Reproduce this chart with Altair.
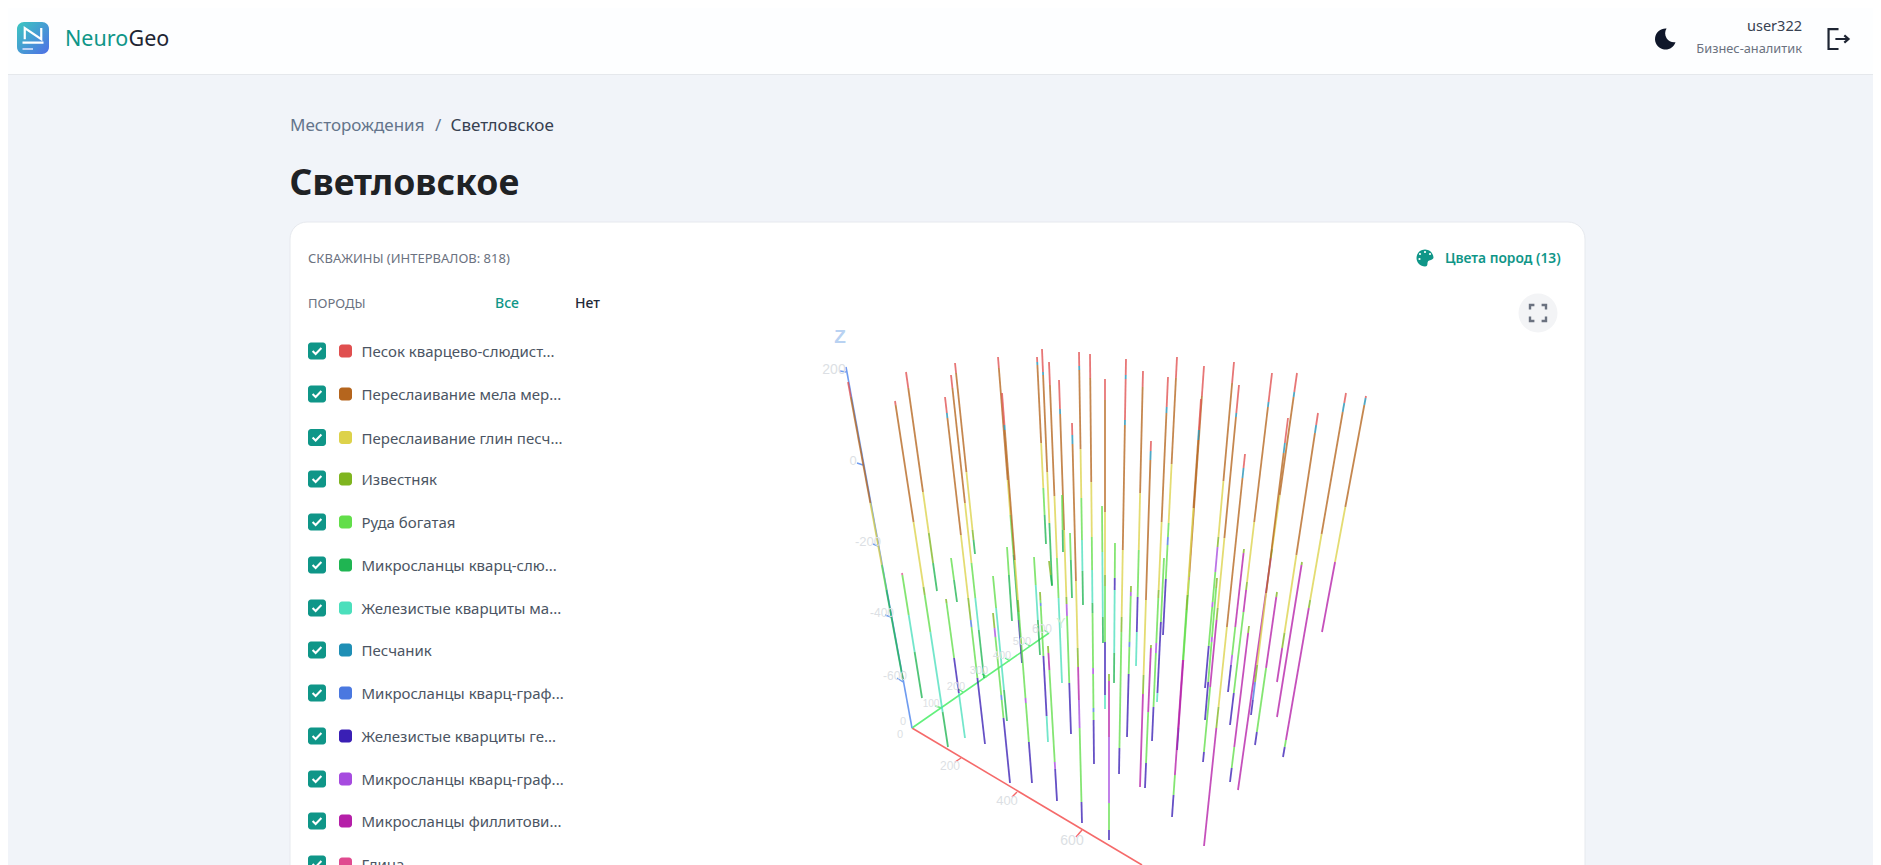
import altair as alt
import pandas as pd

# ---------- rock legend ----------
ROCK_CODES = list("RBYLGDTSCNPMK")
ROCK_COLORS = ["#e04f4f", "#b5651d", "#ddd24a", "#7fb51f", "#62de4a", "#1fb552", "#4bdfbc",
               "#1f8fb5", "#4a78e0", "#3a1fb5", "#a64bdf", "#b51fa8", "#e04a8f"]
ROCK_LABELS = ["Песок кварцево-слюдист...", "Переслаивание мела мер...", "Переслаивание глин песч...",
               "Известняк", "Руда богатая", "Микросланцы кварц-слю...", "Железистые кварциты ма...",
               "Песчаник", "Микросланцы кварц-граф...", "Железистые кварциты ге...",
               "Микросланцы кварц-граф...", "Микросланцы филлитови...", "Глина"]
LEGEND_Y = [351, 394, 437.5, 479, 522, 565, 608, 650, 693, 736, 779, 821, 864]

# ---------- wells, as read from the projected 3D view ----------
WELL_TOP_X = [848, 895, 906, 902, 945, 951, 955, 951, 946, 993, 993, 998, 1002, 1007, 1034, 1040, 1048, 1037, 1042,
              1049, 1049, 1059, 1062, 1072, 1070, 1079, 1090, 1105, 1102, 1126, 1115, 1131, 1143, 1151, 1151, 1168,
              1177, 1164, 1204, 1201, 1234, 1217, 1239, 1245, 1272, 1244, 1249, 1297, 1288, 1277, 1318, 1302, 1366,
              1346, 1109]
WELL_TOP_Y = [382, 401, 372, 573, 397, 375, 363, 558, 599, 576, 613, 357, 393, 547, 557, 592, 646, 357, 349,
              362, 561, 380, 495, 423, 533, 352, 354, 379, 506, 359, 543, 586, 371, 441, 645, 377,
              357, 558, 366, 399, 362, 578, 385, 454, 373, 549, 626, 373, 418, 592, 413, 562, 396,
              393, 674]
WELL_BOTTOM_X = [903, 948, 937, 922, 985, 984, 975, 957, 965, 1007, 1010, 1022, 1032, 1012, 1040, 1048, 1057, 1046, 1052,
                 1062, 1052, 1071, 1063, 1082, 1072, 1083, 1094, 1105, 1103, 1119, 1114, 1127, 1136, 1140, 1145, 1152,
                 1163, 1157, 1177, 1172, 1205, 1205, 1203, 1204, 1230, 1228, 1230, 1238, 1251, 1255, 1277, 1277, 1322,
                 1283, 1109]
WELL_ENDS = [
    [397, 503, 565, 590, 680], [405, 522, 587, 595, 632, 712, 747], [388, 492, 533, 563, 591], [575, 615, 652, 698],
    [413, 418, 535, 598, 620, 627, 678, 744], [388, 503, 563, 598, 630, 678], [373, 472, 530, 540, 554], [580, 602],
    [603, 658, 693, 738], [608, 690, 721], [628, 637, 695, 700, 718, 783], [368, 480, 515, 555, 620, 663],
    [425, 430, 560, 600, 612, 698, 703, 742, 783], [575, 621], [585, 620, 655], [600, 603, 606, 656, 716, 742],
    [653, 670, 762, 769, 801], [362, 365, 443, 488, 515, 544], [372, 375, 472, 523, 585],
    [385, 496, 558, 598, 683], [575, 586], [409, 414, 530, 597, 604, 616, 683, 734], [530, 552],
    [435, 444, 581, 648, 667, 700, 728, 802, 823], [560, 598], [366, 370, 449, 498, 540, 571, 605],
    [378, 482, 537, 570, 603, 613, 668, 674, 708, 712, 720, 764], [400, 512, 575, 586, 642, 695, 709], [552, 617, 643],
    [375, 379, 420, 425, 550, 617, 632, 748, 774], [578, 590, 653, 683], [592, 596, 642, 647, 674, 737],
    [387, 493, 550, 597, 632, 666], [451, 460, 600, 675, 694, 787], [648, 712, 763, 788],
    [407, 413, 522, 590, 598, 643, 653, 707, 741], [378, 464, 523, 537, 545, 579, 635], [622, 693, 702],
    [396, 572, 577, 580, 660, 728, 750], [430, 440, 508, 595, 610, 660, 775, 795, 817],
    [383, 481, 537, 547, 572, 602, 607, 646, 688], [588, 637, 642, 682, 720], [413, 417, 538, 608, 620, 687, 752, 762],
    [468, 478, 627, 707, 728, 846], [402, 407, 522, 582, 590, 612, 693, 725], [553, 627, 655, 665, 692],
    [633, 747, 768, 782], [392, 397, 495, 549, 558, 790], [443, 453, 593, 665, 682, 700, 715], [597, 668, 732, 745],
    [425, 433, 555, 633, 648, 682], [565, 717], [398, 405, 507, 562, 632], [403, 412, 534, 600, 608, 740, 747, 757],
    [681, 737, 803, 830, 840],
]
WELL_ROCKS = ["RBYGD", "RBYLGTD", "RBYLD", "KGTD", "RSBYLCGN", "RBYGTD", "RBYLD", "GD", "LGNT", "GTD", "LPGCGN",
              "RBYGDN", "RSBYLGPGN", "GD", "GTD", "LGCGNT", "LMGPN", "RSBYGD", "RSBYD", "RBYGT", "LD", "RSBYLPGN",
              "GD", "RSBYLMPGN", "GD", "RSBYGTD", "RBYGTDGPGCGN", "RBYLGNT", "GTD", "RSRSBYLGN", "GNTD", "LPGCGN",
              "RBYGNT", "RSBYLM", "LMGN", "RSBYLGPGN", "RBYGCGN", "GNT", "RBLPGMN", "RSBYLGMGN", "RBYLPGPGN",
              "LGPGN", "RSBYLMGN", "RSBYLM", "RSBYLMGN", "LMGPN", "LMGN", "RSBYLM", "RSBYLCN", "LMGN", "RSBYLM",
              "LM", "RSBYM", "RSBYLMGN", "LMPGN"]

# ---------- 3D axes ----------
AXIS_X = [912, 1142]
AXIS_Y = [728, 865]
AXIS_GREEN_X = [912, 1049]
AXIS_GREEN_Y = [728, 633]
AXIS_BLUE_X = [912, 846]
AXIS_BLUE_Y = [728, 367]
TICK_LABELS = ["200", "0", "-200", "-400", "-600", "0", "100", "200", "300", "400", "500", "600", "0", "200", "400", "600"]
TICK_LABEL_X = [834, 853, 868, 882, 895, 903, 931, 956, 979, 1002, 1022, 1042, 900, 950, 1007, 1072]
TICK_LABEL_Y = [370, 461, 542, 613, 676, 722, 704, 687, 671, 656, 642, 629, 735, 766, 801, 841]
TICK_LABEL_SIZE = [14, 13, 13, 12, 12, 11, 10, 11, 11, 11, 11, 12, 11, 12, 13, 14]
TICK_COLOR = ["#6f9cf0"] * 5 + ["#62f07c"] * 6 + ["#f56a6a"] * 3
TICK_X1 = [840, 857, 873, 885, 897, 935, 958, 982, 1005, 1025, 1044, 955, 1012, 1076]
TICK_Y1 = [371, 463, 544, 615, 678, 706, 689, 674, 658, 643, 630, 762, 797, 837]
TICK_X2 = [846, 863, 878, 891, 903, 942, 963, 987, 1010, 1030, 1049, 961, 1017, 1082]
TICK_Y2 = [372, 465, 546, 617, 682, 708, 692, 677, 661, 646, 633, 758, 792, 830]

X_SCALE = alt.Scale(domain=[8, 1873], nice=False, zero=False)
Y_SCALE = alt.Scale(domain=[865, 8], nice=False, zero=False)
FONT = "Noto Sans"


def enc(**kw):
    base = dict(x=alt.X("x:Q", scale=X_SCALE, axis=None), y=alt.Y("y:Q", scale=Y_SCALE, axis=None))
    base.update(kw)
    return base


def box(x, x2, y, y2, color, radius=0, stroke=None):
    d = pd.DataFrame({"x": [x], "x2": [x2], "y": [y], "y2": [y2]})
    opts = dict(color=color, cornerRadius=radius)
    if stroke:
        opts.update(stroke=stroke, strokeWidth=1)
    return alt.Chart(d).mark_rect(**opts).encode(x2="x2:Q", y2="y2:Q", **enc())


def txt(text, x, y, size, color, align="left", weight=400, font=FONT):
    d = pd.DataFrame({"x": [x], "y": [y], "t": [text]})
    return alt.Chart(d).mark_text(align=align, baseline="middle", fontSize=size, color=color,
                                  fontWeight=weight, font=font).encode(text="t:N", **enc())


def icon(path, x, y, w, color, filled=False, sw=2.0):
    d = pd.DataFrame({"x": [x], "y": [y]})
    opts = dict(shape=path, size=w * w, opacity=1)
    if filled:
        opts.update(filled=True, fill=color, strokeWidth=0)
    else:
        opts.update(filled=False, stroke=color, strokeWidth=sw)
    return alt.Chart(d).mark_point(**opts).encode(**enc())


def dot(x, y, size, color):
    d = pd.DataFrame({"x": [x], "y": [y]})
    return alt.Chart(d).mark_point(shape="circle", filled=True, size=size, color=color, opacity=1).encode(**enc())


# ---------- well segments ----------
rows = []
for i, ends in enumerate(WELL_ENDS):
    tx, ty, bx = WELL_TOP_X[i], WELL_TOP_Y[i], WELL_BOTTOM_X[i]
    by = ends[-1]
    prev = ty
    for e, rock in zip(ends, WELL_ROCKS[i]):
        rows.append({
            "x": tx + (bx - tx) * (prev - ty) / (by - ty),
            "x2": tx + (bx - tx) * (e - ty) / (by - ty),
            "y": prev, "y2": e, "rock": rock, "order": len(rows),
        })
        prev = e
segments = pd.DataFrame(rows)
wells = alt.Chart(segments).mark_rule(strokeWidth=1.8, opacity=0.78).encode(
    x2="x2:Q", y2="y2:Q",
    color=alt.Color("rock:N", scale=alt.Scale(domain=ROCK_CODES, range=ROCK_COLORS), legend=None),
    **enc())


def axis_line(xs, ys, color, sw=1.6):
    d = pd.DataFrame({"x": [xs[0]], "x2": [xs[1]], "y": [ys[0]], "y2": [ys[1]]})
    return alt.Chart(d).mark_rule(color=color, strokeWidth=sw).encode(x2="x2:Q", y2="y2:Q", **enc())


ticks = pd.DataFrame({"x": TICK_X1, "x2": TICK_X2, "y": TICK_Y1, "y2": TICK_Y2, "c": TICK_COLOR})
tick_marks = alt.Chart(ticks).mark_rule(strokeWidth=1.4).encode(
    x2="x2:Q", y2="y2:Q", color=alt.Color("c:N", scale=None), **enc())
tick_text = pd.DataFrame({"x": TICK_LABEL_X, "y": TICK_LABEL_Y, "t": TICK_LABELS, "s": TICK_LABEL_SIZE})
tick_labels = alt.Chart(tick_text).mark_text(color="#dcdfe4", font="Liberation Sans", baseline="middle", align="center").encode(
    text="t:N", size=alt.Size("s:Q", scale=None), **enc())

# ---------- legend column ----------
legend_df = pd.DataFrame({"x": [361.5] * 13, "y": [v + 1 for v in LEGEND_Y], "t": ROCK_LABELS, "code": ROCK_CODES})
legend_text = alt.Chart(legend_df).mark_text(align="left", baseline="middle", fontSize=15, color="#4b5563", font=FONT).encode(
    text="t:N", **enc())
check_df = pd.DataFrame({"x": [308] * 13, "x2": [326] * 13, "y": [v - 8.5 for v in LEGEND_Y], "y2": [v + 8.5 for v in LEGEND_Y]})
check_boxes = alt.Chart(check_df).mark_rect(color="#0f9688", cornerRadius=3).encode(x2="x2:Q", y2="y2:Q", **enc())
tick_df = pd.DataFrame({"x": [317] * 13, "y": LEGEND_Y})
check_marks = alt.Chart(tick_df).mark_point(shape="M-0.8,0 L-0.25,0.55 L0.8,-0.55", filled=False, stroke="white",
                                            strokeWidth=2, size=121, opacity=1).encode(**enc())
swatch_df = pd.DataFrame({"x": [339] * 13, "x2": [352] * 13, "y": [v - 6.5 for v in LEGEND_Y],
                          "y2": [v + 6.5 for v in LEGEND_Y], "code": ROCK_CODES})
swatches = alt.Chart(swatch_df).mark_rect(cornerRadius=3).encode(
    x2="x2:Q", y2="y2:Q",
    color=alt.Color("code:N", scale=alt.Scale(domain=ROCK_CODES, range=ROCK_COLORS), legend=None), **enc())

logo_fill = alt.Gradient(gradient="linear", x1=0, y1=0, x2=1, y2=1,
                         stops=[alt.GradientStop(offset=0, color="#3cc8c0"), alt.GradientStop(offset=1, color="#4f6fe6")])

layers = [
    box(8, 1873, 8, 865, "#f1f4f9"),
    box(8, 1873, 8, 74, "#fdfeff"),
    box(8, 1873, 74, 75, "#e5e8ec"),
    box(17, 49, 22, 54, logo_fill, radius=7),
    icon("M-0.55,0.15 V-0.6 L0.55,0.15 V-0.6 M-0.7,0.38 H0.7", 33, 37, 30, "white", sw=2.2),
    icon("M-0.7,0 H0", 33, 49, 30, "#bcd2f5", sw=2),
    txt("Neuro", 65, 40, 21.5, "#0f9688"),
    txt("Geo", 128.5, 40, 21.5, "#1e2533"),
    icon("M0.15,-1 A1,1 0 1 0 1,0.3 A0.85,0.85 0 0 1 0.15,-1 Z", 1665, 39, 21, "#0f172a", filled=True),
    txt("user322", 1802, 27, 14.5, "#374151", align="right"),
    txt("Бизнес-аналитик", 1802, 49, 12.8, "#6b7280", align="right"),
    icon("M0.05,-0.95 H-0.9 V0.95 H0.05 M-0.25,0 H1 M0.6,-0.35 L1,0 L0.6,0.35", 1838, 39, 21, "#1e2533", sw=2.2),
    txt("Месторождения", 290, 126, 17, "#64748b"),
    txt("/", 435, 126, 17, "#64748b"),
    txt("Светловское", 450.5, 126, 17, "#374151"),
    txt("Светловское", 289.5, 184, 35.6, "#1f2225", weight=700),
    box(290, 1585, 222, 900, "#ffffff", radius=17, stroke="#e6e9ee"),
    txt("СКВАЖИНЫ (ИНТЕРВАЛОВ: 818)", 308, 259, 13, "#6b7280"),
    icon("M0,-1 A1,1 0 1 0 0,1 C0.5,1 0.1,0.45 0.5,0.3 C0.8,0.25 1,0.1 1,-0.05 A1,1 0 0 0 0,-1 Z", 1425, 258, 17, "#0f9688", filled=True),
    dot(1420, 254, 5, "white"), dot(1425, 252, 5, "white"), dot(1430, 254, 5, "white"), dot(1419.5, 259, 5, "white"),
    txt("Цвета пород (13)", 1445, 259, 13.8, "#0f9688", weight=600),
    txt("ПОРОДЫ", 308, 304, 13, "#6b7280"),
    txt("Все", 495, 304, 14, "#0f9688", weight=500),
    txt("Нет", 575, 304, 14, "#1f2937", weight=500),
    dot(1538, 313, 1520, "#f3f4f6"),
    icon("M-1,-0.45 V-1 H-0.45 M0.45,-1 H1 V-0.45 M1,0.45 V1 H0.45 M-0.45,1 H-1 V0.45", 1538, 313, 16, "#6b7280", sw=2.4),
    check_boxes, check_marks, swatches, legend_text,
    axis_line(AXIS_X, AXIS_Y, "#f56a6a"),
    axis_line(AXIS_GREEN_X, AXIS_GREEN_Y, "#62f07c"),
    axis_line(AXIS_BLUE_X, AXIS_BLUE_Y, "#6f9cf0"),
    tick_marks,
    wells,
    tick_labels,
    txt("Z", 840, 337, 19, "#b9d2f2", align="center", weight=700, font="Liberation Sans"),
    txt("Y", 1061, 624, 14, "#cdeed2", align="center", font="Liberation Sans"),
]

chart = alt.layer(*layers).properties(
    width=1865, height=857, padding=0,
    autosize=alt.AutoSizeParams(type="none"),
).configure_view(stroke=None)

chart.save("out.html", embed_options={"renderer": "svg", "actions": False})
